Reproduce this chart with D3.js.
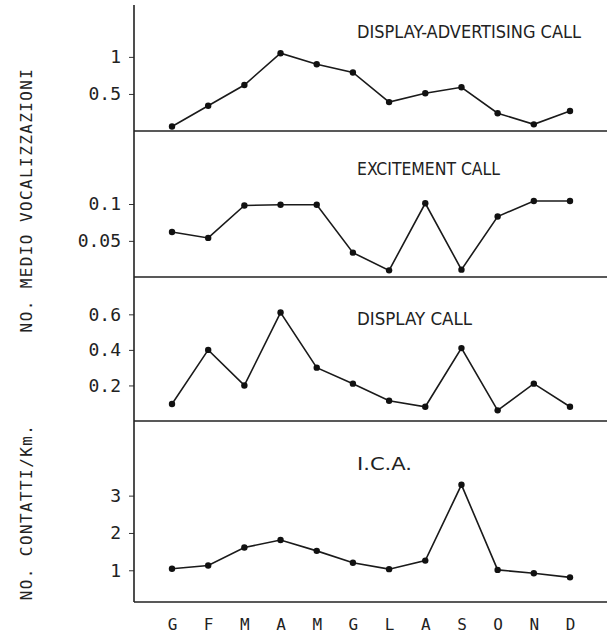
<html>
  <head>
    <meta charset="utf-8">
    <title>Vocalizzazioni e contatti</title>
    <script src="https://d3js.org/d3.v7.min.js"></script>
    <style>
      body { margin: 0; background: #fff; }
      .tick text { font-family: 'DejaVu Sans Mono', monospace; }
    </style>
  </head>
  <body>
    <script>
      // mesi (G F M A M G L A S O N D)
      var months = ["G", "F", "M", "A", "M", "G", "L", "A", "S", "O", "N", "D"];

      // valori
      var displayAdv = [0.06, 0.34, 0.62, 1.05, 0.90, 0.79, 0.39, 0.51, 0.59, 0.24, 0.09, 0.27];
      var excitement = [0.062, 0.054, 0.098, 0.099, 0.099, 0.034, 0.010, 0.101, 0.011, 0.083, 0.104, 0.104];
      var displayCall = [0.096, 0.40, 0.20, 0.61, 0.30, 0.21, 0.114, 0.08, 0.41, 0.06, 0.21, 0.08];
      var ica = [1.04, 1.13, 1.61, 1.81, 1.52, 1.20, 1.03, 1.26, 3.29, 1.01, 0.92, 0.81];

      // etichette
      var titles = ["DISPLAY-ADVERTISING CALL", "EXCITEMENT CALL", "DISPLAY CALL", "I.C.A."];
      var ticks1 = [0.5, 1];
      var ticks2 = [0.05, 0.1];
      var ticks3 = [0.2, 0.4, 0.6];
      var ticks4 = [1, 2, 3];

      var width = 607;
      var height = 636;
      var axisX = 134;

      var svg = d3.select("body")
        .append("svg")
        .attr("width", width)
        .attr("height", height);

      var x = d3.scalePoint()
        .domain(d3.range(months.length))
        .range([172, 570]);

      // pannelli: [top, bottom], dominio
      var panels = [
        { values: displayAdv, ticks: ticks1, top: 5, bottom: 131, domain: [0, 1.70], fmt: d3.format("~g"), title: titles[0], ty: 38, tw: 224 },
        { values: excitement, ticks: ticks2, top: 131, bottom: 277, domain: [0.001, 0.199], fmt: d3.format("~g"), title: titles[1], ty: 175, tw: 143 },
        { values: displayCall, ticks: ticks3, top: 277, bottom: 421, domain: [0, 0.81], fmt: d3.format(".1f"), title: titles[2], ty: 325, tw: 115 },
        { values: ica, ticks: ticks4, top: 421, bottom: 602, domain: [0.15, 5.0], fmt: d3.format("d"), title: titles[3], ty: 470, tw: 55 }
      ];

      panels.forEach(function(p) {
        var y = d3.scaleLinear().domain(p.domain).range([p.bottom, p.top]);

        // linea di base del pannello
        svg.append("line")
          .attr("x1", axisX).attr("x2", width)
          .attr("y1", p.bottom).attr("y2", p.bottom)
          .attr("stroke", "#222")
          .attr("stroke-width", 1.6);

        var ax = svg.append("g")
          .attr("transform", "translate(" + axisX + ",0)")
          .call(d3.axisLeft(y).tickValues(p.ticks).tickSize(5).tickPadding(8).tickFormat(p.fmt));
        ax.select(".domain").remove();
        ax.selectAll(".tick line").attr("stroke", "#333");
        ax.selectAll(".tick text")
          .attr("font-size", 18)
          .attr("fill", "#222");

        var line = d3.line()
          .x(function(d, i) { return x(i); })
          .y(function(d) { return y(d); });

        svg.append("path")
          .datum(p.values)
          .attr("fill", "none")
          .attr("stroke", "#1a1a1a")
          .attr("stroke-width", 1.6)
          .attr("d", line);

        svg.selectAll(null)
          .data(p.values)
          .enter()
          .append("circle")
          .attr("cx", function(d, i) { return x(i); })
          .attr("cy", function(d) { return y(d); })
          .attr("r", 3.2)
          .attr("fill", "#111");

        svg.append("text")
          .attr("x", 357)
          .attr("y", p.ty)
          .attr("font-family", "'DejaVu Sans Condensed', 'DejaVu Sans', sans-serif")
          .attr("font-size", 18)
          .attr("textLength", p.tw)
          .attr("lengthAdjust", "spacingAndGlyphs")
          .attr("fill", "#222")
          .text(p.title);
      });

      // asse verticale
      svg.append("line")
        .attr("x1", axisX).attr("x2", axisX)
        .attr("y1", 5).attr("y2", 602)
        .attr("stroke", "#222")
        .attr("stroke-width", 1.6);

      // mesi
      var xa = svg.append("g")
        .attr("transform", "translate(0,602)")
        .call(d3.axisBottom(x).tickSize(0).tickPadding(17).tickFormat(function(i) { return months[i]; }));
      xa.select(".domain").remove();
      xa.selectAll(".tick text")
        .attr("font-size", 16)
        .attr("fill", "#222");

      // titoli asse y
      svg.append("text")
        .attr("transform", "translate(32,200) rotate(-90)")
        .attr("text-anchor", "middle")
        .attr("font-family", "'DejaVu Sans Mono', monospace")
        .attr("font-size", 16)
        .attr("letter-spacing", 1.4)
        .attr("fill", "#222")
        .text("NO. MEDIO VOCALIZZAZIONI");

      svg.append("text")
        .attr("transform", "translate(32,512) rotate(-90)")
        .attr("text-anchor", "middle")
        .attr("font-family", "'DejaVu Sans Mono', monospace")
        .attr("font-size", 16)
        .attr("letter-spacing", 1.4)
        .attr("fill", "#222")
        .text("NO. CONTATTI/Km.");
    </script>
  </body>
</html>
